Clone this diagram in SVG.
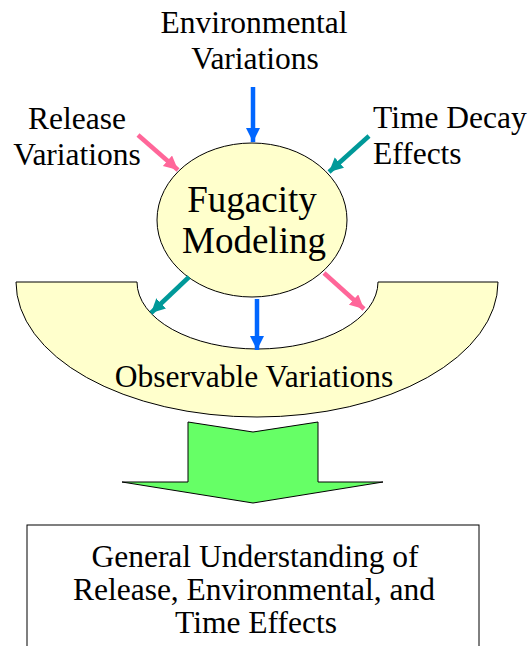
<svg xmlns="http://www.w3.org/2000/svg" width="531" height="646" viewBox="0 0 531 646">
<style>
  .t { font-size: 31.5px; }
  .big { font-size: 37px; }
  .shape { stroke: #000; stroke-width: 1; }
  .blue { stroke: #0066FF; stroke-width: 4.5; fill: none; }
  .pink { stroke: #FF6699; stroke-width: 4.5; fill: none; }
  .teal { stroke: #009999; stroke-width: 4.5; fill: none; }
</style>
<defs>
  <marker id="hb" markerUnits="userSpaceOnUse" markerWidth="16" markerHeight="16" refX="14" refY="7" orient="auto">
    <path d="M0,0 L14,7 L0,14 Z" fill="#0066FF"/>
  </marker>
  <marker id="hp" markerUnits="userSpaceOnUse" markerWidth="16" markerHeight="16" refX="14" refY="7" orient="auto">
    <path d="M0,0 L14,7 L0,14 Z" fill="#FF6699"/>
  </marker>
  <marker id="ht" markerUnits="userSpaceOnUse" markerWidth="16" markerHeight="16" refX="14" refY="7" orient="auto">
    <path d="M0,0 L14,7 L0,14 Z" fill="#009999"/>
  </marker>
</defs>
<rect width="531" height="646" fill="#fff"/>
<g font-family="Liberation Serif, DejaVu Serif, serif" fill="#000">
<g id="observable">
  <path class="shape" fill="#FFFFCC" d="M16,282 A241,135 0 0 0 498,282 L378,282 A120.5,67 0 0 1 137,282 Z"/>
  <text class="t" x="254" y="387" text-anchor="middle">Observable Variations</text>
</g>

<g id="fugacity">
  <ellipse class="shape" fill="#FFFFCC" cx="252" cy="220" rx="95" ry="77"/>
  <text class="big" x="252" y="212" text-anchor="middle">Fugacity</text>
  <text class="big" x="254" y="253" text-anchor="middle">Modeling</text>
</g>

<g id="environmental">
  <text class="t" x="254" y="33" text-anchor="middle">Environmental</text>
  <text class="t" x="255" y="69" text-anchor="middle">Variations</text>
</g>

<g id="release">
  <text class="t" x="77" y="129" text-anchor="middle">Release</text>
  <text class="t" x="77" y="165" text-anchor="middle">Variations</text>
</g>

<g id="timedecay">
  <text class="t" x="373" y="128">Time Decay</text>
  <text class="t" x="373" y="164">Effects</text>
</g>

<g id="bigarrow">
  <path class="shape" fill="#66FF66" d="M188,422 L253,432 L318,422 L318,482 L383,482 L253,503 L122,482 L188,482 Z"/>
</g>

<g id="understanding">
  <rect class="shape" fill="#fff" x="27" y="525" width="452" height="140"/>
  <text class="t" x="255" y="567" text-anchor="middle">General Understanding of</text>
  <text class="t" x="254" y="600" text-anchor="middle">Release, Environmental, and</text>
  <text class="t" x="256" y="633" text-anchor="middle">Time Effects</text>
</g>
</g>
<g id="connectors">
  <line class="blue" x1="253" y1="87" x2="253" y2="142" marker-end="url(#hb)"/>
  <line class="pink" x1="138" y1="135" x2="178" y2="170" marker-end="url(#hp)"/>
  <line class="teal" x1="369" y1="136" x2="329" y2="172" marker-end="url(#ht)"/>
  <line class="teal" x1="189" y1="277" x2="151" y2="313" marker-end="url(#ht)"/>
  <line class="blue" x1="257" y1="299" x2="257" y2="350" marker-end="url(#hb)"/>
  <line class="pink" x1="324" y1="273" x2="364" y2="309" marker-end="url(#hp)"/>
</g>
</svg>
